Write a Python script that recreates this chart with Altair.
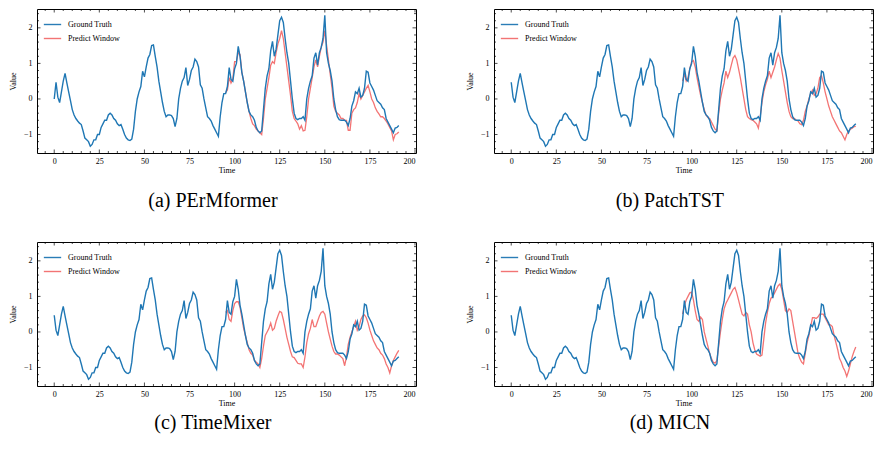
import altair as alt
import pandas as pd

# ---------------- data ----------------
# Ground truth (panels b, c, d), t = 0..191
GT = [
    0.47, 0.05, -0.1, 0.2, 0.5, 0.72, 0.45, 0.2, -0.05, -0.3,
    -0.45, -0.55, -0.62, -0.68, -0.72, -0.9, -1.1, -1.15, -1.2, -1.33,
    -1.28, -1.15, -1.15, -1.0, -1.0, -0.8, -0.7, -0.6, -0.6, -0.45,
    -0.4, -0.45, -0.55, -0.6, -0.7, -0.75, -0.72, -0.85, -1.0, -1.1,
    -1.15, -1.17, -1.13, -0.85, -0.35, 0.0, 0.2, 0.35, 0.78, 0.62,
    0.9, 1.15, 1.25, 1.5, 1.52, 1.2, 0.9, 0.5, 0.2, -0.1,
    -0.35, -0.5, -0.45, -0.45, -0.47, -0.55, -0.78, -0.55, 0.0, 0.3,
    0.5, 0.6, 0.88, 0.38, 0.55, 0.8, 0.9, 1.12, 1.05, 0.9,
    0.4, 0.3, 0.0, -0.25, -0.5, -0.55, -0.62, -0.75, -0.85, -0.95,
    -1.05, -0.5, -0.1, 0.15, 0.15, 0.35, 0.88, 0.55, 0.5, 0.85,
    1.0, 1.48, 1.2, 0.75, 0.5, 0.2, -0.1, -0.35, -0.45, -0.5,
    -0.6, -0.8, -0.9, -0.95, -0.9, -0.3, 0.3, 0.65, 0.85, 1.35,
    1.62, 1.2, 1.4, 1.8, 2.2, 2.3, 2.15, 1.7, 1.3, 1.0,
    0.5, 0.0, -0.4, -0.55, -0.58, -0.55, -0.55, -0.5, -0.6, 0.0,
    0.3, 0.5, 0.65, 1.15, 1.3, 0.95, 1.3, 1.45, 1.7, 2.35,
    1.3, 1.0, 0.8, 0.5, 0.0, -0.3, -0.5, -0.58, -0.6, -0.6,
    -0.6, -0.65, -0.75, -0.55, -0.2, -0.05, 0.2, 0.15, 0.3, 0.05,
    0.1, 0.3, 0.78, 0.75, 0.45, 0.35, 0.25, 0.1, -0.05, -0.1,
    -0.15, -0.25, -0.3, -0.55, -0.65, -0.75, -0.85, -0.95, -0.82, -0.8,
    -0.75, -0.7,
]
# Panel (a) shows the same series one step later, starting from 0
GT_A = [0.0] + GT[:191]

PRED_START = 95  # predictions cover t = 95..191

PRED_A = [
    0.18, 0.25, 0.6, 0.45, 0.55, 1.05, 1.05, 1.3, 1.25, 0.75,
    0.5, 0.2, -0.1, -0.35, -0.55, -0.7, -0.75, -0.85, -0.9, -0.95,
    -1.0, -0.55, 0.0, 0.3, 0.6, 0.95, 1.05, 1.0, 1.3, 1.55,
    1.7, 1.92, 1.7, 1.3, 0.9, 0.5, 0.1, -0.35, -0.55, -0.62,
    -0.7, -0.85, -0.75, -0.9, -0.88, -0.5, 0.0, 0.3, 0.6, 0.9,
    1.1, 0.9, 1.2, 1.45, 1.6, 1.92, 1.5, 1.1, 0.7, 0.3,
    -0.2, -0.35, -0.4, -0.45, -0.55, -0.55, -0.6, -0.6, -0.88, -0.88,
    -0.4, -0.3, -0.25, -0.1, 0.15, 0.0, 0.1, 0.2, 0.3, 0.38,
    0.2, 0.0, -0.1, -0.25, -0.35, -0.42, -0.5, -0.5, -0.55, -0.62,
    -0.7, -0.8, -0.9, -1.15, -1.0, -0.98, -0.93,
]
PRED_B = [
    0.5, 0.72, 0.5, 0.6, 0.85, 1.05, 1.08, 0.9, 0.6, 0.35,
    0.1, -0.1, -0.3, -0.45, -0.52, -0.55, -0.65, -0.75, -0.85, -0.9,
    -0.4, 0.0, 0.25, 0.45, 0.78, 0.6, 0.75, 0.95, 1.15, 1.22,
    1.1, 0.85, 0.6, 0.3, 0.0, -0.3, -0.5, -0.55, -0.58, -0.6,
    -0.65, -0.7, -0.82, -0.5, -0.1, 0.2, 0.4, 0.55, 0.78, 0.6,
    0.75, 0.9, 1.1, 1.28, 1.15, 0.8, 0.5, 0.2, -0.1, -0.35,
    -0.5, -0.55, -0.55, -0.6, -0.62, -0.7, -0.72, -0.6, -0.35, -0.2,
    0.0, 0.15, 0.25, 0.1, 0.15, 0.3, 0.6, 0.65, 0.45, 0.2,
    0.0, -0.2, -0.35, -0.5, -0.6, -0.7, -0.8, -0.9, -0.95, -1.05,
    -1.15, -1.0, -0.9, -0.85, -0.82, -0.78, -0.77,
]
PRED_C = [
    0.55, 0.6, 0.35, 0.3, 0.6, 0.8, 0.85, 0.85, 0.7, 0.4,
    0.1, -0.1, -0.3, -0.5, -0.6, -0.65, -0.8, -0.85, -0.9, -1.0,
    -0.75, -0.4, -0.1, 0.0, 0.1, 0.25, 0.05, 0.1, 0.3, 0.45,
    0.58, 0.55, 0.35, 0.1, -0.15, -0.35, -0.55, -0.7, -0.72, -0.8,
    -0.88, -0.9, -0.9, -1.0, -0.7, -0.3, -0.05, 0.1, 0.35, 0.15,
    0.15, 0.3, 0.45, 0.55, 0.58, 0.5, 0.25, 0.0, -0.2, -0.4,
    -0.55, -0.62, -0.62, -0.65, -0.7, -0.75, -0.95, -0.7, -0.35, -0.15,
    0.0, 0.15, 0.3, 0.05, 0.15, 0.35, 0.45, 0.48, 0.4, 0.25,
    0.05, -0.1, -0.25, -0.35, -0.45, -0.5, -0.6, -0.65, -0.75, -0.9,
    -1.0, -1.15, -0.95, -0.8, -0.7, -0.6, -0.52,
]
PRED_D = [
    0.5, 0.75, 0.9, 1.0, 1.1, 1.12, 0.9, 0.6, 0.35, 0.3,
    0.42, 0.35, 0.0, -0.2, -0.4, -0.6, -0.75, -0.85, -0.88, -0.8,
    -0.4, 0.0, 0.35, 0.65, 0.8, 0.9, 1.0, 1.1, 1.2, 1.25,
    1.1, 0.9, 0.7, 0.5, 0.45, 0.55, 0.5, 0.2, 0.0, -0.3,
    -0.5, -0.62, -0.65, -0.68, -0.65, -0.2, 0.25, 0.55, 0.8, 0.95,
    1.0, 1.1, 1.2, 1.3, 1.35, 1.2, 0.9, 0.6, 0.55, 0.65,
    0.6, 0.3, 0.0, -0.3, -0.6, -0.75, -0.85, -0.9, -0.6, -0.3,
    -0.1, 0.15, 0.4, 0.4, 0.38, 0.42, 0.5, 0.5, 0.5, 0.4,
    0.3, 0.2, 0.2, 0.15, -0.1, -0.3, -0.5, -0.75, -0.85, -1.0,
    -1.1, -1.25, -1.1, -0.9, -0.7, -0.55, -0.42,
]

CAPTIONS = ["(a) PErMformer", "(b) PatchTST", "(c) TimeMixer", "(d) MICN"]
SERIES = ["Ground Truth", "Predict Window"]
COLORS = ["#1f77b4", "#f26d6d"]

X_DOMAIN = [-9.55, 200.55]
Y_DOMAIN = [-1.52, 2.53]
X_MAJOR = [0, 25, 50, 75, 100, 125, 150, 175, 200]
X_MINOR = [v for v in range(-5, 201, 5) if v % 25 != 0]
Y_MAJOR = [-1, 0, 1, 2]
Y_MINOR = [round(-1.4 + 0.2 * i, 1) for i in range(20) if round(-1.4 + 0.2 * i, 1) not in (-1.0, 0.0, 1.0, 2.0)]

W, H = 379, 144
FONT = "Liberation Serif"


def panel(gt, pred, caption, cap_offset):
    gdf = pd.DataFrame({"t": list(range(len(gt))), "v": gt, "s": SERIES[0]})
    pdf = pd.DataFrame({"t": list(range(PRED_START, PRED_START + len(pred))), "v": pred, "s": SERIES[1]})

    xs = alt.Scale(domain=X_DOMAIN, nice=False, zero=False)
    ys = alt.Scale(domain=Y_DOMAIN, nice=False, zero=False)
    xax = alt.Axis(values=X_MAJOR, ticks=False, domain=False, grid=False, labelPadding=4,
                   title="Time", titlePadding=1)
    yax = alt.Axis(values=Y_MAJOR, ticks=False, domain=False, grid=False, labelPadding=5,
                   title="Value", titlePadding=6)
    color = alt.Color("s:N", scale=alt.Scale(domain=SERIES, range=COLORS),
                      legend=alt.Legend(title=None, orient="top-left"))

    pred_line = alt.Chart(pdf).mark_line(strokeWidth=1.3, opacity=0.95).encode(
        x=alt.X("t:Q", scale=xs, axis=xax), y=alt.Y("v:Q", scale=ys, axis=yax), color=color)
    gt_line = alt.Chart(gdf).mark_line(strokeWidth=1.4).encode(
        x=alt.X("t:Q", scale=xs), y=alt.Y("v:Q", scale=ys), color=color)

    def xt(vals, ln):
        d = pd.DataFrame({"t": vals})
        b = alt.Chart(d).mark_rule(color="black", strokeWidth=0.7).encode(
            x=alt.X("t:Q", scale=xs), y=alt.value(H), y2=alt.value(H - ln))
        tp = alt.Chart(d).mark_rule(color="black", strokeWidth=0.7).encode(
            x=alt.X("t:Q", scale=xs), y=alt.value(0), y2=alt.value(ln))
        return [b, tp]

    def yt(vals, ln):
        d = pd.DataFrame({"v": vals})
        l = alt.Chart(d).mark_rule(color="black", strokeWidth=0.7).encode(
            y=alt.Y("v:Q", scale=ys), x=alt.value(0), x2=alt.value(ln))
        r = alt.Chart(d).mark_rule(color="black", strokeWidth=0.7).encode(
            y=alt.Y("v:Q", scale=ys), x=alt.value(W), x2=alt.value(W - ln))
        return [l, r]

    layers = [pred_line, gt_line] + xt(X_MAJOR, 3.5) + xt(X_MINOR, 2) + yt(Y_MAJOR, 3.5) + yt(Y_MINOR, 2)
    return alt.layer(*layers).properties(
        width=W, height=H,
        title=alt.TitleParams(caption, orient="bottom", fontSize=20, font=FONT, fontWeight="normal",
                              color="black", offset=cap_offset, anchor="middle", frame="bounds"),
    )


pa = panel(GT_A, PRED_A, CAPTIONS[0], 17)
pb = panel(GT, PRED_B, CAPTIONS[1], 17)
pc = panel(GT, PRED_C, CAPTIONS[2], 6)
pd_ = panel(GT, PRED_D, CAPTIONS[3], 6)

top = alt.hconcat(pa, pb, spacing=48).resolve_scale(color="independent").resolve_legend(color="independent")
bottom = alt.hconcat(pc, pd_, spacing=48).resolve_scale(color="independent").resolve_legend(color="independent")
chart = alt.vconcat(top, bottom, spacing=29).properties(
    padding=0
).resolve_scale(color="independent").resolve_legend(color="independent").configure_view(
    stroke="black", strokeWidth=1).configure_axis(
    labelFont=FONT, labelFontSize=8, labelColor="black", titleFont=FONT, titleFontSize=8,
    titleFontWeight="normal", titleColor="black").configure_legend(
    labelFont=FONT, labelFontSize=8, labelColor="black", symbolType="stroke", symbolSize=300,
    symbolStrokeWidth=1.4, offset=6, padding=0, rowPadding=-3, labelOffset=6)

chart.save("out.html", embed_options={"renderer": "svg", "actions": False})
